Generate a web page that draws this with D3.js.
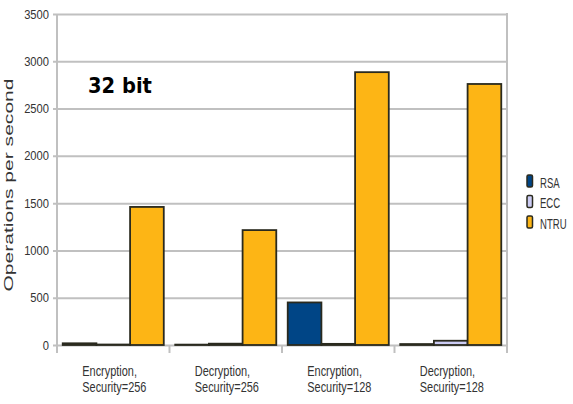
<!DOCTYPE html>
<html lang="en">
<head>
    <meta charset="UTF-8">
    <title>32 bit operations per second</title>
    <script src="https://d3js.org/d3.v7.min.js"></script>
    <style>
        body, html { margin: 0; padding: 0; background: #fff; }
        svg { display: block; }
    </style>
</head>
<body>
    <script>
        // chart size
        const width = 573;
        const height = 404;
        const margin = { top: 14, right: 66, bottom: 59, left: 57 };
        const font = "'Liberation Sans', Arial, sans-serif";

        // data
        const categories = [["Encryption,", "Security=256"], ["Decryption,", "Security=256"],
                            ["Encryption,", "Security=128"], ["Decryption,", "Security=128"]];
        const seriesNames = ["RSA", "ECC", "NTRU"];
        const rsaValues = [18, 4, 450, 10];
        const eccValues = [5, 14, 12, 45];
        const ntruValues = [1460, 1215, 2885, 2760];
        const yTicks = [0, 500, 1000, 1500, 2000, 2500, 3000, 3500];
        const colors = ["#004586", "#ccccf4", "#fdb515"];

        const series = [rsaValues, eccValues, ntruValues];

        const svg = d3.select("body")
            .append("svg")
            .attr("width", width)
            .attr("height", height);

        const x = d3.scaleBand()
            .domain(d3.range(categories.length))
            .range([margin.left, width - margin.right]);

        const xInner = d3.scaleBand()
            .domain(seriesNames)
            .range([0, x.bandwidth()])
            .paddingOuter(0.17);

        const y = d3.scaleLinear()
            .domain([0, 3500])
            .range([height - margin.bottom, margin.top]);

        // gridlines
        const yAxis = svg.append("g")
            .attr("transform", `translate(${margin.left},0)`)
            .call(d3.axisLeft(y).tickValues(yTicks).tickSize(-(width - margin.left - margin.right)).tickSizeOuter(0).tickFormat(""));
        yAxis.select(".domain").remove();
        yAxis.selectAll(".tick line")
            .attr("stroke", "#c0c0c0")
            .attr("stroke-width", 2)
            .attr("x1", -4);

        // y tick labels (narrow)
        svg.selectAll(".ylab")
            .data(yTicks)
            .enter()
            .append("text")
            .attr("transform", d => `translate(49,${y(d) + 4.5}) scale(0.86,1)`)
            .attr("text-anchor", "end")
            .attr("fill", "#333")
            .style("font-family", font)
            .style("font-size", "13px")
            .text(d => d3.format("d")(d));

        // left axis line and right border
        svg.append("line")
            .attr("x1", margin.left).attr("x2", margin.left)
            .attr("y1", y(3500)).attr("y2", y(0) + 8)
            .attr("stroke", "#c0c0c0").attr("stroke-width", 2);
        svg.append("line")
            .attr("x1", width - margin.right).attr("x2", width - margin.right)
            .attr("y1", y(3500) - 1).attr("y2", y(0) + 8)
            .attr("stroke", "#c0c0c0").attr("stroke-width", 2);

        // category separator ticks
        svg.selectAll(".sep")
            .data(d3.range(1, categories.length))
            .enter()
            .append("line")
            .attr("x1", d => x(d)).attr("x2", d => x(d))
            .attr("y1", y(0)).attr("y2", y(0) + 8)
            .attr("stroke", "#c0c0c0").attr("stroke-width", 2);

        // bars
        seriesNames.forEach((name, s) => {
            svg.selectAll(".bar-" + name)
                .data(series[s])
                .enter()
                .append("rect")
                .attr("x", (d, i) => x(i) + xInner(name))
                .attr("y", d => y(d))
                .attr("width", xInner.bandwidth())
                .attr("height", d => y(0) - y(d))
                .attr("fill", colors[s])
                .attr("stroke", "#2a2a1e")
                .attr("stroke-width", 1.8);
        });

        // x labels
        categories.forEach((lines, i) => {
            lines.forEach((l, j) => {
                svg.append("text")
                    .attr("transform", `translate(${x(i) + x.bandwidth() / 2 - 31},${376 + j * 15.5}) scale(0.73,1)`)
                    .attr("fill", "#333")
                    .style("font-family", font)
                    .style("font-size", "15px")
                    .text(l);
            });
        });

        // y title
        svg.append("text")
            .attr("transform", `translate(13,${185}) rotate(-90) scale(1.62,1)`)
            .attr("text-anchor", "middle")
            .attr("fill", "#333")
            .style("font-family", font)
            .style("font-size", "13px")
            .text("Operations per second");

        // chart label
        svg.append("text")
            .attr("transform", "translate(88,93) scale(0.93,1)")
            .attr("fill", "#000")
            .style("font-family", "'DejaVu Sans', sans-serif")
            .style("font-weight", "bold")
            .style("font-size", "21px")
            .text("32 bit");

        // legend
        const legend = svg.append("g");
        seriesNames.forEach((name, s) => {
            const ly = 181 + s * 20.5;
            legend.append("rect")
                .attr("x", 527).attr("y", ly - 6)
                .attr("width", 5.5).attr("height", 12)
                .attr("rx", 1.5)
                .attr("fill", colors[s])
                .attr("stroke", "#2a2a1e")
                .attr("stroke-width", 1.5);
            legend.append("text")
                .attr("transform", `translate(540,${ly + 6.5}) scale(0.66,1)`)
                .attr("fill", "#333")
                .style("font-family", font)
                .style("font-size", "14.5px")
                .text(name);
        });
    </script>
</body>
</html>
